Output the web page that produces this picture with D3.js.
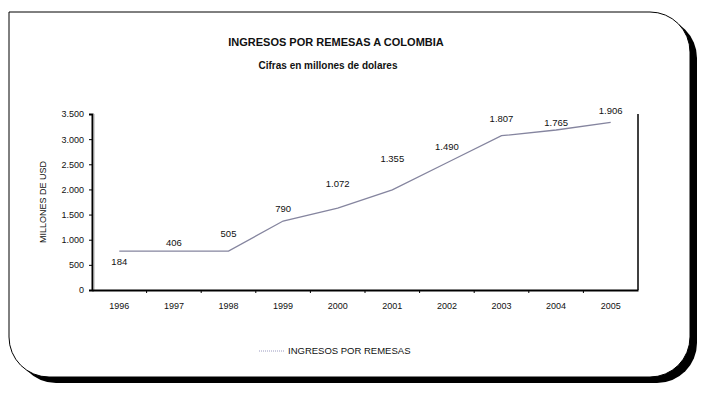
<!DOCTYPE html>
<html>
<head>
<meta charset="utf-8">
<title>Ingresos por remesas a Colombia</title>
<script src="https://d3js.org/d3.v7.min.js"></script>
<style>
    body { margin: 0; background: #fff; }
    svg text { font-family: "Liberation Sans", Arial, sans-serif; fill: #111; }
</style>
</head>
<body>
<svg id="chart" width="710" height="398"></svg>
<script>
    // data
    const years = ["1996","1997","1998","1999","2000","2001","2002","2003","2004","2005"];
    const ingresos = [775, 775, 775, 1372, 1630, 1990, 2530, 3068, 3182, 3335];
    // the value labels printed over the line (they come from another series)
    const etiquetas = [184, 406, 505, 790, 1072, 1355, 1490, 1807, 1765, 1906];
    const yTicks = [0, 500, 1000, 1500, 2000, 2500, 3000, 3500];

    const loc = d3.formatLocale({decimal: ",", thousands: ".", grouping: [3], currency: ["", ""]});
    const fmt = loc.format(",d");

    const svg = d3.select("#chart");

    // frame with rounded corners and drop shadow (top-left corner is square)
    function framePath(x0, y0, x1, y1, r) {
        const p = d3.path();
        p.moveTo(x0, y0);
        p.lineTo(x1 - r, y0);
        p.arcTo(x1, y0, x1, y0 + r, r);
        p.lineTo(x1, y1 - r);
        p.arcTo(x1, y1, x1 - r, y1, r);
        p.lineTo(x0 + r, y1);
        p.arcTo(x0, y1, x0, y1 - r, r);
        p.closePath();
        return p.toString();
    }
    svg.append("path")
        .attr("d", framePath(9, 12, 690, 377, 40))
        .attr("transform", "translate(7,6)")
        .attr("fill", "#000");
    svg.append("path")
        .attr("d", framePath(9, 12, 690, 377, 40))
        .attr("fill", "#fff")
        .attr("stroke", "#000")
        .attr("stroke-width", 1);

    // titles
    svg.append("text").attr("x", 336).attr("y", 46)
        .attr("text-anchor", "middle").attr("font-size", 11).attr("font-weight", "bold")
        .text("INGRESOS POR REMESAS A COLOMBIA");
    svg.append("text").attr("x", 328).attr("y", 69)
        .attr("text-anchor", "middle").attr("font-size", 10).attr("font-weight", "bold")
        .text("Cifras en millones de dolares");

    // plot area
    const pLeft = 92, pRight = 638, pTop = 114, pBottom = 290;

    const x = d3.scaleBand().domain(years).range([pLeft, pRight]);
    const y = d3.scaleLinear().domain([0, 3500]).range([pBottom, pTop]);
    const yLab = d3.scaleLinear().domain([0, 2000]).range([pBottom, pTop]);

    // right border of plot area
    svg.append("line")
        .attr("x1", pRight).attr("x2", pRight).attr("y1", pTop).attr("y2", pBottom)
        .attr("stroke", "#000").attr("stroke-width", 1.5);

    // y axis
    const yAxis = svg.append("g")
        .attr("transform", "translate(" + pLeft + ",0)")
        .call(d3.axisLeft(y).tickValues(yTicks).tickSize(3).tickPadding(5).tickFormat(fmt));
    yAxis.select(".domain").attr("stroke", "#000").attr("stroke-width", 2);
    yAxis.selectAll("text").attr("font-size", 9).attr("font-family", "Liberation Sans, Arial, sans-serif").attr("fill", "#111");
    svg.append("line")
        .attr("x1", pLeft + 2).attr("x2", pLeft + 2).attr("y1", pTop).attr("y2", pBottom)
        .attr("stroke", "#aaa").attr("stroke-width", 1);

    // x axis
    const xAxis = svg.append("g")
        .attr("transform", "translate(0," + pBottom + ")")
        .call(d3.axisBottom(x).tickSize(0).tickPadding(13));
    xAxis.select(".domain").attr("stroke", "#000").attr("stroke-width", 2);
    xAxis.selectAll("text").attr("font-size", 9).attr("font-family", "Liberation Sans, Arial, sans-serif").attr("fill", "#111");
    // little tick marks between categories
    xAxis.selectAll(".sep")
        .data(years.slice(1))
        .join("line")
        .attr("class", "sep")
        .attr("x1", d => x(d)).attr("x2", d => x(d))
        .attr("y1", 0).attr("y2", 3)
        .attr("stroke", "#000");

    svg.append("text")
        .attr("transform", "translate(46," + (pTop + pBottom) / 2 + ") rotate(-90)")
        .attr("text-anchor", "middle").attr("font-size", 9)
        .text("MILLONES DE USD");

    // the line
    const line = d3.line()
        .x((d, i) => x(years[i]) + x.bandwidth() / 2)
        .y(d => y(d));
    svg.append("path")
        .datum(ingresos)
        .attr("d", line)
        .attr("fill", "none")
        .attr("stroke", "#85859f")
        .attr("stroke-width", 1.3);

    // value labels
    svg.selectAll(".lab")
        .data(etiquetas)
        .join("text")
        .attr("class", "lab")
        .attr("x", (d, i) => x(years[i]) + x.bandwidth() / 2)
        .attr("y", d => yLab(d) - 12)
        .attr("dy", "0.35em")
        .attr("text-anchor", "middle")
        .attr("font-size", 9.5)
        .text(d => fmt(d));

    // legend
    svg.append("line")
        .attr("x1", 259).attr("x2", 285).attr("y1", 351).attr("y2", 351)
        .attr("stroke", "#9a9ac0").attr("stroke-width", 1)
        .attr("stroke-dasharray", "1,1");
    svg.append("text")
        .attr("x", 288).attr("y", 351).attr("dy", "0.35em")
        .attr("font-size", 9.5)
        .text("INGRESOS POR REMESAS");
</script>
</body>
</html>
